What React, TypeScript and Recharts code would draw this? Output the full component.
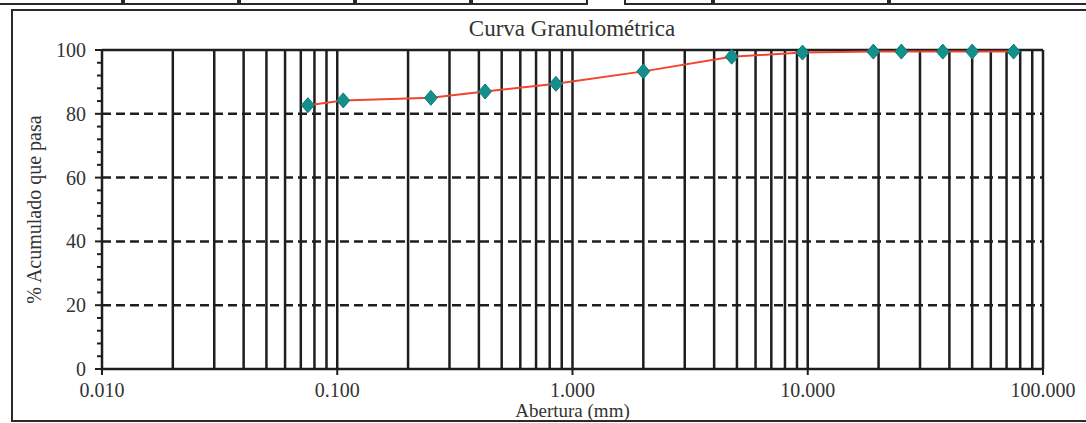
import React from "react";
import {
  LineChart,
  Line,
  XAxis,
  YAxis,
  ReferenceLine,
  Label,
} from "recharts";

// sieve openings (mm) and cumulative % passing
const sieveSizes = [0.075, 0.106, 0.25, 0.425, 0.85, 2.0, 4.75, 9.5, 19.0, 25.0, 37.5, 50.0, 75.0];
const percentPassing = [82.7, 84.2, 85.0, 87.0, 89.4, 93.3, 97.9, 99.2, 99.5, 99.5, 99.5, 99.5, 99.5];

const xTicks = [0.01, 0.1, 1, 10, 100];
const yTicks = [0, 4, 8, 12, 16, 20, 24, 28, 32, 36, 40, 44, 48, 52, 56, 60, 64, 68, 72, 76, 80, 84, 88, 92, 96, 100];
const dashedLevels = [20, 40, 60, 80];
const verticalGrid = [
  0.02, 0.03, 0.04, 0.05, 0.06, 0.07, 0.08, 0.09, 0.1,
  0.2, 0.3, 0.4, 0.5, 0.6, 0.7, 0.8, 0.9, 1,
  2, 3, 4, 5, 6, 7, 8, 9, 10,
  20, 30, 40, 50, 60, 70, 80, 90, 100,
];

// header table strip at the very top of the scan
const stripCells = [
  [-4, 123], [123, 239], [239, 355], [355, 471], [471, 588],
  [624, 713], [713, 889], [889, 1092],
];

const data = sieveSizes.map((s, i) => ({ size: s, pass: percentPassing[i] }));

const INK = "#1e1e1e";
const FONT = "'Liberation Serif', 'Times New Roman', serif";

const YTick = (props: any) => {
  const { x, y, payload } = props;
  const major = payload.value % 20 === 0;
  return (
    <g>
      <line x1={x - (major ? 7 : 5)} x2={x} y1={y} y2={y} stroke={INK} strokeWidth={2} />
      {major && (
        <text
          x={x - 16}
          y={y}
          dy="0.35em"
          textAnchor="end"
          fontSize={20}
          fontFamily={FONT}
          fill="#333"
        >
          {payload.value}
        </text>
      )}
    </g>
  );
};

const Diamond = (props: any) => {
  const { cx, cy, index } = props;
  if (cx == null || cy == null) return <g key={index} />;
  return (
    <polygon
      key={index}
      points={`${cx},${cy - 7.5} ${cx + 6.5},${cy} ${cx},${cy + 7.5} ${cx - 6.5},${cy}`}
      fill="#138f8c"
      stroke="#0f7b78"
      strokeWidth={1}
    />
  );
};

export default function App() {
  return (
    <div
      style={{
        position: "absolute",
        left: 0,
        top: 0,
        width: 1086,
        height: 423,
        overflow: "hidden",
        background: "#fff",
      }}
    >
      {stripCells.map(([a, b], i) => (
        <div
          key={i}
          style={{
            position: "absolute",
            left: a,
            top: -6,
            width: b - a,
            height: 11,
            border: "2px solid #2a2a2a",
            boxSizing: "border-box",
          }}
        />
      ))}
      <div
        style={{
          position: "absolute",
          left: 11,
          top: 9,
          width: 1090,
          height: 413,
          border: "2px solid #2a2a2a",
          boxSizing: "border-box",
        }}
      />
      <div
        style={{
          position: "absolute",
          left: 372,
          width: 400,
          top: 16,
          textAlign: "center",
          fontFamily: FONT,
          fontSize: 23,
          color: "#333",
        }}
      >
        Curva Granulométrica
      </div>
      <LineChart
        width={1086}
        height={423}
        data={data}
        margin={{ top: 50, right: 43, bottom: 0, left: 12 }}
        style={{ position: "absolute", left: 0, top: 0 }}
      >
        <XAxis
          dataKey="size"
          type="number"
          scale="log"
          domain={[0.01, 100]}
          ticks={xTicks}
          allowDataOverflow
          height={54}
          tickSize={6}
          tickMargin={8}
          tickFormatter={(v: number) => v.toFixed(3)}
          tick={{ fontSize: 20, fontFamily: FONT, fill: "#333" }}
          tickLine={{ stroke: INK, strokeWidth: 2 }}
          axisLine={{ stroke: INK, strokeWidth: 2.5 }}
        >
          <Label
            value="Abertura (mm)"
            position="insideBottom"
            offset={6}
            style={{ fontSize: 19, fontFamily: FONT, fill: "#333" }}
          />
        </XAxis>
        <YAxis
          type="number"
          domain={[0, 100]}
          ticks={yTicks}
          interval={0}
          width={90}
          tickSize={0}
          tickMargin={0}
          tickLine={false}
          tick={<YTick />}
          axisLine={{ stroke: INK, strokeWidth: 2.5 }}
        >
          <Label
            value="% Acumulado que pasa"
            angle={-90}
            position="insideLeft"
            offset={22}
            style={{ fontSize: 20, fontFamily: FONT, fill: "#333", textAnchor: "middle" }}
          />
        </YAxis>
        {dashedLevels.map((v) => (
          <ReferenceLine
            key={`h${v}`}
            y={v}
            stroke={INK}
            strokeWidth={2.5}
            strokeDasharray="9 5"
          />
        ))}
        {verticalGrid.map((v) => (
          <ReferenceLine key={`v${v}`} x={v} stroke={INK} strokeWidth={2.5} />
        ))}
        <ReferenceLine y={100} stroke={INK} strokeWidth={2.5} />
        <Line
          type="linear"
          dataKey="pass"
          stroke="#f0452f"
          strokeWidth={2}
          dot={<Diamond />}
          activeDot={false}
          isAnimationActive={false}
        />
      </LineChart>
    </div>
  );
}
